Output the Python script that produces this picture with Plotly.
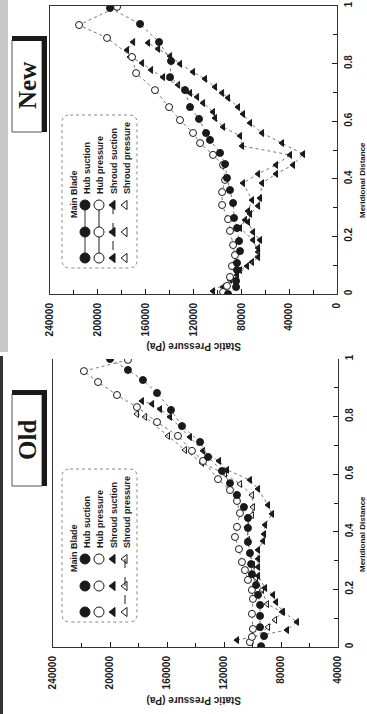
import plotly.graph_objects as go

W, H = 367, 714

# ---------------- data: "New" design ----------------
new_hs_m = [0.00, 0.024, 0.045, 0.083, 0.108, 0.149, 0.184, 0.229, 0.264, 0.316, 0.361, 0.403, 0.451, 0.49,
            0.535, 0.559, 0.608, 0.649, 0.708, 0.753, 0.809, 0.875, 0.9375, 0.993]
new_hs_p = [91100, 84400, 84400, 83600, 83600, 81100, 81900, 83600, 86100, 86900, 89500, 92000, 93600, 97800,
            106200, 109500, 115400, 122900, 127100, 139600, 138800, 148800, 164700, 189800]

new_hp_m = [0.007, 0.028, 0.059, 0.097, 0.135, 0.170, 0.219, 0.26, 0.309, 0.354, 0.396, 0.448, 0.483, 0.524,
            0.559, 0.604, 0.649, 0.708, 0.767, 0.823, 0.889, 0.934, 0.997]
new_hp_p = [95300, 92000, 89500, 87800, 85300, 86900, 89500, 91100, 96100, 96100, 93600, 95300, 103700, 114500,
            120400, 131300, 140400, 152200, 168000, 171400, 192300, 215700, 183900]

new_ss_m = [0.024, 0.066, 0.097, 0.128, 0.160, 0.1875, 0.215, 0.25, 0.278, 0.306, 0.333, 0.385, 0.417, 0.448,
            0.486, 0.524, 0.559, 0.594, 0.625, 0.649, 0.681, 0.698, 0.719, 0.747, 0.771, 0.799, 0.826, 0.851, 0.872]
new_ss_p = [95300, 83600, 75200, 66000, 66000, 64400, 70200, 74400, 72700, 66000, 64400, 62700, 51000, 36800,
            28400, 46000, 62700, 72700, 78600, 82800, 91100, 96100, 102000, 110400, 120400, 131300, 139600, 149600, 158000]

new_sp_m = [0.010, 0.049, 0.083, 0.111, 0.146, 0.1875, 0.229, 0.257, 0.288, 0.326, 0.385, 0.417, 0.448, 0.483,
            0.514, 0.549, 0.58, 0.611, 0.632, 0.663, 0.684, 0.698, 0.726, 0.753, 0.778, 0.802, 0.823, 0.847, 0.875]
new_sp_p = [103700, 89500, 81100, 71100, 66000, 70200, 81100, 76900, 74400, 71100, 78600, 66000, 51000, 39300,
            79400, 81100, 95300, 102000, 103700, 112000, 117000, 122900, 132900, 145500, 155500, 163000, 173100, 175600, 170500]

# ---------------- data: "Old" design ----------------
old_hs_m = [0.003, 0.038, 0.069, 0.108, 0.146, 0.181, 0.215, 0.253, 0.288, 0.326, 0.365, 0.413, 0.448, 0.486,
            0.528, 0.569, 0.611, 0.66, 0.712, 0.767, 0.823, 0.882, 0.927, 0.962, 1.0]
old_hs_p = [94000, 91900, 94700, 94700, 94700, 96100, 97500, 100400, 101000, 101800, 103200, 103200, 103200, 106000,
            110900, 115800, 121400, 131200, 136800, 149500, 157200, 167000, 176900, 187400, 200000]

old_hp_m = [0.017, 0.035, 0.0625, 0.115, 0.167, 0.198, 0.233, 0.267, 0.295, 0.34, 0.382, 0.417, 0.465, 0.507,
            0.545, 0.583, 0.646, 0.681, 0.733, 0.781, 0.833, 0.875, 0.920, 0.958, 0.997]
old_hp_p = [101800, 100400, 99700, 100400, 99700, 100400, 103200, 105300, 107400, 109500, 112300, 110900, 108800, 110900,
            115800, 124200, 134700, 142500, 152300, 167000, 181100, 195100, 208400, 218300, 187400]

old_ss_m = [0.024, 0.059, 0.087, 0.122, 0.156, 0.181, 0.205, 0.247, 0.278, 0.306, 0.337, 0.368, 0.392, 0.424,
            0.462, 0.493, 0.549, 0.580, 0.615, 0.646, 0.681, 0.729, 0.799, 0.826, 0.844, 0.854]
old_ss_p = [110900, 75800, 68800, 78600, 83500, 85600, 91200, 96100, 96100, 96100, 96100, 92600, 91900, 91200,
            86300, 89100, 96100, 101800, 117900, 123500, 134700, 143900, 157900, 164900, 170500, 177600]

old_sp_m = [0.021, 0.069, 0.094, 0.122, 0.149, 0.198, 0.24, 0.285, 0.326, 0.372, 0.417, 0.458, 0.486, 0.528,
            0.566, 0.601, 0.639, 0.684, 0.733, 0.799, 0.809]
old_sp_p = [101800, 89100, 84200, 79300, 89800, 93300, 97500, 99700, 101800, 103200, 103900, 100400, 99700, 100400,
            108800, 119300, 135400, 147400, 159300, 175400, 181100]

legend_title = "Main Blade"
series_names = ["Hub suction", "Hub pressure", "Shroud suction", "Shroud pressure"]
panel_titles = ["New", "Old"]
x_title = "Static Pressure (Pa)"
y_title = "Meridional Distance"

# ---------------- figure ----------------
INK = "#1a1a1a"
LINE = "#777777"
FONT = "Liberation Sans"

fig = go.Figure()


def add_series(m, p, xa, ya, symbol, size, fill, lw=1):
    fig.add_trace(go.Scatter(
        x=p, y=m, xaxis=xa, yaxis=ya, mode="lines+markers",
        line=dict(color=LINE, width=1, dash="dot"),
        marker=dict(symbol=symbol, size=size, color=fill, line=dict(color=INK, width=lw)),
        showlegend=False, hoverinfo="skip"))


# New panel (x / y)
add_series(new_sp_m, new_sp_p, "x", "y", "triangle-left", 6, INK)
add_series(new_ss_m, new_ss_p, "x", "y", "triangle-left", 6, INK)
add_series(new_hp_m, new_hp_p, "x", "y", "circle", 7, "white")
add_series(new_hs_m, new_hs_p, "x", "y", "circle", 7, INK)
# Old panel (x2 / y2)
add_series(old_sp_m, old_sp_p, "x2", "y2", "triangle-left-open", 6, INK)
add_series(old_ss_m, old_ss_p, "x2", "y2", "triangle-left", 6, INK)
add_series(old_hp_m, old_hp_p, "x2", "y2", "circle", 7, "white")
add_series(old_hs_m, old_hs_p, "x2", "y2", "circle", 7, INK)

# ---- custom rotated legends drawn on an overlay pixel axis (x3/y3) ----
leg_cols = [85, 99, 113, 125]
leg_syms = [("circle", INK), ("circle", "white"), ("triangle-left", INK), ("triangle-left-open", INK)]
leg_lines = {"New": [("#999999", 2, "solid"), (INK, 1, "solid"), (INK, 1, "dash"), None],
             "Old": [None, None, None, (INK, 1, "dash")]}
panel_off = {"New": 0, "Old": 354}
for key in ["New", "Old"]:
    off = panel_off[key]
    ys = [205 + off, 232 + off, 258 + off]
    for i, cx in enumerate(leg_cols):
        sym, col = leg_syms[i]
        ln = leg_lines[key][i]
        fig.add_trace(go.Scatter(
            x=[cx] * 3, y=ys, xaxis="x3", yaxis="y3",
            mode="lines+markers" if ln else "markers",
            line=dict(color=ln[0], width=ln[1], dash=ln[2]) if ln else None,
            marker=dict(symbol=sym, size=10 if "circle" in sym else 8, color=col, line=dict(color=INK, width=1)),
            showlegend=False, hoverinfo="skip"))

shapes = []
annotations = []


def rounded_box(x0, y0, x1, y1, r):
    return (f"M {x0+r},{y0} L {x1-r},{y0} Q {x1},{y0} {x1},{y0+r} L {x1},{y1-r} Q {x1},{y1} {x1-r},{y1} "
            f"L {x0+r},{y1} Q {x0},{y1} {x0},{y1-r} L {x0},{y0+r} Q {x0},{y0} {x0+r},{y0} Z")


for key in ["New", "Old"]:
    off = panel_off[key]
    shapes.append(dict(type="path", path=rounded_box(62, 115 + off, 137, 268 + off, 8), xref="x3", yref="y3",
                       line=dict(color="#888", width=1, dash="dot"), layer="below"))
    annotations.append(dict(text=legend_title, x=74, y=220 + off, xref="x3", yref="y3", textangle=-90,
                            showarrow=False, xanchor="center", yanchor="bottom",
                            font=dict(family=FONT, size=9, color=INK, weight="bold")))
    for cx, nm in zip([87, 100, 114, 127], series_names):
        annotations.append(dict(text=nm, x=cx, y=196 + off, xref="x3", yref="y3", textangle=-90,
                                showarrow=False, xanchor="center", yanchor="bottom",
                                font=dict(family=FONT, size=9, color=INK, weight="bold")))
    # panel label box with shadow
    shapes.append(dict(type="rect", x0=12, x1=42, y0=40 + off, y1=132 + off, xref="x3", yref="y3",
                       line=dict(color="#555", width=1), fillcolor="white"))
    shapes.append(dict(type="rect", x0=12, x1=47, y0=36 + off, y1=41 + off, xref="x3", yref="y3",
                       line=dict(width=0), fillcolor=INK))
    shapes.append(dict(type="rect", x0=42, x1=47, y0=36 + off, y1=132 + off, xref="x3", yref="y3",
                       line=dict(width=0), fillcolor=INK))
    annotations.append(dict(text=f"<b>{key}</b>", x=27, y=86 + off, xref="x3", yref="y3", textangle=-90,
                            showarrow=False, xanchor="center", yanchor="middle",
                            font=dict(family="Liberation Serif", size=25, color=INK)))
    # axis titles
    annotations.append(dict(text=x_title, x=194, y=347 + off, xref="x3", yref="y3", textangle=180,
                            showarrow=False, xanchor="center", yanchor="middle",
                            font=dict(family=FONT, size=10, color=INK, weight="bold")))
    annotations.append(dict(text=y_title, x=362, y=180 + off, xref="x3", yref="y3", textangle=-90,
                            showarrow=False, xanchor="center", yanchor="middle",
                            font=dict(family=FONT, size=8, color=INK, weight="bold")))

# scan-edge artefacts
shapes.append(dict(type="rect", x0=0, x1=8, y0=0, y1=352, xref="x3", yref="y3",
                   line=dict(width=0), fillcolor="#c8c8c8", layer="below"))
shapes.append(dict(type="rect", x0=0, x1=3, y0=356, y1=714, xref="x3", yref="y3",
                   line=dict(width=0), fillcolor="#333", layer="below"))

tickfont = dict(family=FONT, size=10, color=INK, weight="bold")


def xax(dom, rng, mirror):
    return dict(domain=dom, range=rng, dtick=40000, tick0=0, tickformat="d", ticks="inside", ticklen=5,
                tickcolor=INK, tickangle=-90, tickfont=tickfont, showline=True, linecolor="#333", linewidth=1,
                mirror=mirror, showgrid=False, zeroline=False, ticklabelstandoff=4, automargin=False,
                minor=dict(dtick=20000, ticks="inside", ticklen=4, tickcolor=INK, showgrid=False))


def yax(dom, anchor):
    return dict(domain=dom, range=[0, 1], anchor=anchor, side="right", dtick=0.2, ticks="inside", ticklen=5,
                tickcolor=INK, tickangle=-90, tickfont=tickfont, showline=True, linecolor="#333", linewidth=1,
                mirror=True, showgrid=False, zeroline=False, ticklabelstandoff=2, automargin=False,
                minor=dict(dtick=0.1, ticks="inside", ticklen=4, tickcolor=INK, showgrid=False))


fig.update_layout(
    template="none",
    width=W, height=H, autosize=False,
    margin=dict(l=0, r=0, t=0, b=0, autoexpand=False),
    paper_bgcolor="white", plot_bgcolor="rgba(0,0,0,0)",
    xaxis=dict(**xax([50 / W, 337 / W], [240000, 0], True), anchor="y"),
    yaxis=yax([(H - 294) / H, (H - 6) / H], "x"),
    xaxis2=dict(**xax([53 / W, 338 / W], [240000, 40000], False), anchor="y2"),
    yaxis2=yax([(H - 647) / H, (H - 359) / H], "x2"),
    xaxis3=dict(domain=[0, 1], range=[0, W], visible=False, anchor="y3", fixedrange=True, automargin=False),
    yaxis3=dict(domain=[0, 1], range=[H, 0], visible=False, anchor="x3", fixedrange=True, automargin=False),
    shapes=shapes, annotations=annotations, showlegend=False,
)

fig.write_html("out.html", config={"displayModeBar": False},
               post_script="document.body.style.margin='0';document.body.style.padding='0';"
                           "document.documentElement.style.overflow='hidden';")
